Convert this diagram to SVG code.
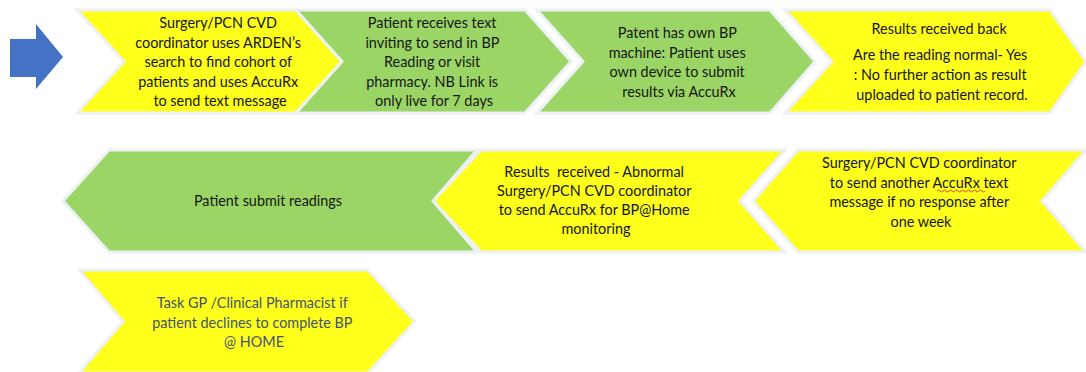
<svg xmlns="http://www.w3.org/2000/svg" width="1086" height="372" viewBox="0 0 1086 372">
  <style>
    .yel { fill: #FFFF1C; stroke: #EDF0F4; stroke-width: 3; stroke-linejoin: miter; }
    .grn { fill: #9BD565; stroke: #EDF0F4; stroke-width: 3; stroke-linejoin: miter; }
    .lbl { font-family: Lato, "Liberation Sans", sans-serif; font-size: 14.4px; fill: #161616; text-anchor: middle; }
    .lbl2 { font-family: Lato, "Liberation Sans", sans-serif; font-size: 14.4px; fill: #44546A; text-anchor: middle; }
  </style>
  <rect width="1086" height="372" fill="#FFFFFF"/>

  <!-- start arrow -->
  <g id="start-arrow">
    <polygon points="10,39 36,39 36,24 63,57 36,89 36,77 10,77" fill="#4472C4"/>
  </g>

  <!-- row 1, left to right -->
  <g id="step-1">
    <polygon class="yel" points="77,10 296,10 342,61.5 296,113 77,113 124,61.5"/>
    <text class="lbl">
      <tspan x="220" y="28">Surgery/PCN CVD</tspan>
      <tspan x="220" y="47.5">coordinator uses ARDEN’s</tspan>
      <tspan x="220" y="67">search to find cohort of</tspan>
      <tspan x="220" y="86.5">patients and uses AccuRx</tspan>
      <tspan x="220" y="106">to send text message</tspan>
    </text>
  </g>
  <g id="step-2">
    <polygon class="grn" points="296,10 525,10 571,61.5 525,113 296,113 342,61.5"/>
    <text class="lbl">
      <tspan x="434" y="28">Patient receives text</tspan>
      <tspan x="434" y="47.5">inviting to send in BP</tspan>
      <tspan x="434" y="67">Reading or visit</tspan>
      <tspan x="434" y="86.5">pharmacy. NB Link is</tspan>
      <tspan x="434" y="106">only live for 7 days</tspan>
    </text>
  </g>
  <g id="step-3">
    <polygon class="grn" points="537,10 770,10 815,61.5 770,113 537,113 583,61.5"/>
    <text class="lbl">
      <tspan x="679" y="38">Patent has own BP</tspan>
      <tspan x="679" y="57.5">machine: Patient uses</tspan>
      <tspan x="679" y="77">own device to submit</tspan>
      <tspan x="679" y="96.5">results via AccuRx</tspan>
    </text>
  </g>
  <g id="step-4">
    <polygon class="yel" points="785,10 1050,10 1086,61.5 1050,113 785,113 832,61.5"/>
    <text class="lbl">
      <tspan x="941" y="34">Results received back</tspan>
      <tspan x="942" y="60">Are the reading normal- Yes</tspan>
      <tspan x="942" y="80">: No further action as result</tspan>
      <tspan x="942" y="100">uploaded to patient record.</tspan>
    </text>
  </g>

  <!-- row 2, right to left -->
  <g id="step-5">
    <polygon class="yel" points="753,201 798,150 1086,150 1042,201 1086,252 798,252"/>
    <text class="lbl">
      <tspan x="921" y="168">Surgery/PCN CVD coordinator</tspan>
      <tspan x="921" y="187.5">to send another AccuRx text</tspan>
      <tspan x="921" y="207">message if no response after</tspan>
      <tspan x="921" y="226.5">one week</tspan>
    </text>
    <!-- spell-check squiggle under "AccuRx" -->
    <path d="M937,191 q1.5,-2 3,0 t3,0 t3,0 t3,0 t3,0 t3,0 t3,0 t3,0 t3,0 t3,0 t3,0 t3,0 t3,0 t3,0 t3,0 t3,0" fill="none" stroke="#E03030" stroke-width="0.9"/>
  </g>
  <g id="step-6">
    <polygon class="yel" points="433,201 481,150 785,150 740,201 785,252 481,252"/>
    <text class="lbl">
      <tspan x="596" y="177" xml:space="preserve" style="white-space: pre">Results  received - Abnormal</tspan>
      <tspan x="596" y="196">Surgery/PCN CVD coordinator</tspan>
      <tspan x="596" y="215">to send AccuRx for BP@Home</tspan>
      <tspan x="596" y="234">monitoring</tspan>
    </text>
  </g>
  <g id="step-7">
    <polygon class="grn" points="63,201 109,150 477,150 433,201 477,252 109,252"/>
    <text class="lbl">
      <tspan x="268" y="206">Patient submit readings</tspan>
    </text>
  </g>

  <!-- row 3 -->
  <g id="step-8">
    <polygon class="yel" points="79,270 368,270 415,321.5 368,373 79,373 123,321.5"/>
    <text class="lbl2">
      <tspan x="254" y="308">Task GP /Clinical Pharmacist if</tspan>
      <tspan x="254" y="327.5">patient declines to complete BP</tspan>
      <tspan x="254" y="347">@ HOME</tspan>
    </text>
  </g>
</svg>
